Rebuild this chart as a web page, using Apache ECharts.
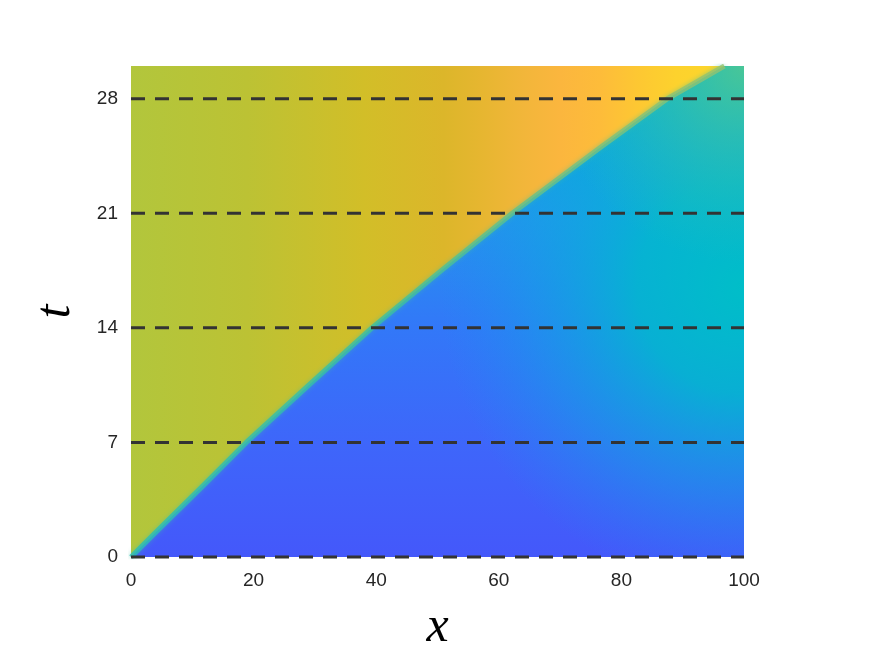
<!DOCTYPE html>
<html>
<head>
<meta charset="utf-8">
<script src="https://cdn.jsdelivr.net/npm/echarts@6/dist/echarts.min.js"></script>
<style>
  html, body { margin: 0; padding: 0; background: #fff; }
  #chart { width: 875px; height: 656px; }
</style>
</head>
<body>
<div id="chart"></div>
<script>
// front position (t -> x)
const frontT = [0, 1.5, 4.3, 7, 10.5, 14, 17.5, 21, 25, 28, 30];
const frontX = [0, 4.0, 11.6, 18.8, 29, 39.3, 50.6, 62.2, 76.5, 87.5, 96.8];
const xTicks = [0, 20, 40, 60, 80, 100];
const tTicks = [0, 7, 14, 21, 28];   // dashed lines
const tMax = 30;

const xMin = xTicks[0], xMax = xTicks[xTicks.length - 1];

function stops(list) {
  return list.map(s => ({ offset: s[0], color: s[1] }));
}

// colour fields (styles)
const leftFill = {
  type: 'linear', x: 0, y: 0, x2: 1, y2: 0,
  colorStops: stops([
    [0, '#b2c63c'], [0.19, '#bcc234'], [0.38, '#d2be28'], [0.51, '#dcb62a'],
    [0.57, '#e6b630'], [0.64, '#f2b63a'], [0.70, '#fbb63e'], [0.765, '#fdbc3a'],
    [0.83, '#fdc832'], [0.89, '#fdd22d'], [1, '#fdd82a']
  ])
};
const rightBase = {
  type: 'linear', x: 0, y: 1, x2: 0, y2: 0,
  colorStops: stops([
    [0, '#4458fa'], [0.23, '#3e66fa'], [0.47, '#3278f8'],
    [0.7, '#2494ec'], [0.93, '#04b2d0'], [1, '#00b8cc']
  ])
};
const rightCyan = {
  type: 'radial', x: 1, y: 0.45, r: 0.62,
  colorStops: stops([
    [0, 'rgba(0,190,200,1)'], [0.35, 'rgba(0,186,205,0.85)'],
    [0.7, 'rgba(10,170,225,0.4)'], [1, 'rgba(20,150,240,0)']
  ])
};
const rightGreen = {
  type: 'radial', x: 1, y: 0, r: 0.4,
  colorStops: stops([
    [0, 'rgba(80,200,145,0.9)'], [0.5, 'rgba(60,198,160,0.45)'], [1, 'rgba(40,195,175,0)']
  ])
};

const frontData = frontX.map((x, i) => [x, frontT[i]]);
const rightData = frontData.concat([[xMax, tMax]]);

const chart = echarts.init(document.getElementById('chart'));

const series = [
  {
    type: 'line', data: [[xMin, tMax], [xMax, tMax]],
    symbol: 'none', silent: true,
    lineStyle: { width: 0 },
    areaStyle: { color: leftFill, opacity: 1, origin: 'start' }
  }
];
[rightBase, rightCyan, rightGreen].forEach(fill => {
  series.push({
    type: 'line', data: rightData,
    symbol: 'none', silent: true,
    lineStyle: { width: 0 },
    areaStyle: { color: fill, opacity: 1, origin: 'start' }
  });
});
// thin transition band along the front
series.push({
  type: 'line', data: frontData,
  symbol: 'none', silent: true,
  lineStyle: {
    width: 5, join: 'round',
    color: {
      type: 'linear', x: 0, y: 1, x2: 0, y2: 0,
      colorStops: stops([
        [0, 'rgba(40,190,185,0.8)'], [0.5, 'rgba(60,192,160,0.8)'], [1, 'rgba(150,195,110,0.8)']
      ])
    },
    shadowBlur: 5, shadowColor: 'rgba(60,192,160,0.6)'
  }
});
// dashed levels
tTicks.forEach(t => {
  series.push({
    type: 'line', data: [[xMin, t], [xMax, t]],
    symbol: 'none', silent: true, clip: false,
    lineStyle: { color: '#333333', width: 3, type: [14, 10], cap: 'butt' }
  });
});

chart.setOption({
  animation: false,
  grid: { left: 131, right: 131, top: 66, bottom: 99, outerBoundsMode: 'none' },
  xAxis: {
    type: 'value', min: xMin, max: xMax, interval: 20,
    name: 'x', nameLocation: 'middle', nameGap: 46,
    nameTextStyle: { fontFamily: 'Liberation Serif', fontStyle: 'italic', fontSize: 50, color: '#000' },
    axisLine: { show: false }, axisTick: { show: false }, splitLine: { show: false },
    axisLabel: { color: '#262626', fontSize: 19, fontFamily: 'Liberation Sans', margin: 14 }
  },
  yAxis: {
    type: 'value', min: 0, max: tMax, interval: 7,
    name: 't', nameLocation: 'middle', nameGap: 50, nameRotate: 90,
    nameTextStyle: { fontFamily: 'Liberation Serif', fontStyle: 'italic', fontSize: 50, color: '#000' },
    axisLine: { show: false }, axisTick: { show: false }, splitLine: { show: false },
    axisLabel: { color: '#262626', fontSize: 19, fontFamily: 'Liberation Sans', margin: 13, showMaxLabel: false }
  },
  series: series
});
</script>
</body>
</html>
